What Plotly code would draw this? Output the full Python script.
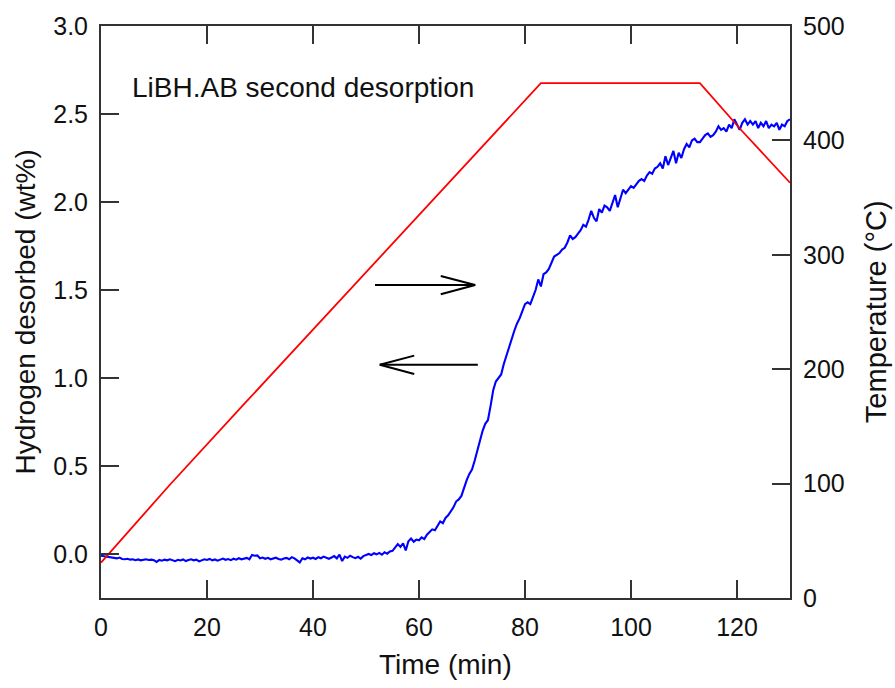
import plotly.graph_objects as go

# ---------------- data ----------------
# Hydrogen desorbed (wt%), sampled every 0.5 min from 0 to 130 min
h2_step_min = 0.5
h2_wt = [
    -0.010, -0.012, -0.015, -0.018, -0.020, -0.022, -0.025, -0.020, -0.028, -0.030,
    -0.027, -0.032, -0.030, -0.035, -0.031, -0.036, -0.033, -0.030, -0.034, -0.032,
    -0.036, -0.045, -0.034, -0.038, -0.032, -0.036, -0.030, -0.035, -0.041, -0.033,
    -0.037, -0.031, -0.040, -0.034, -0.030, -0.036, -0.032, -0.042, -0.035, -0.030,
    -0.034, -0.028, -0.036, -0.031, -0.038, -0.030, -0.026, -0.033, -0.029, -0.035,
    -0.027, -0.032, -0.024, -0.030, -0.028, -0.022, -0.030, -0.006, -0.010, -0.008,
    -0.024, -0.020, -0.027, -0.022, -0.030, -0.025, -0.021, -0.028, -0.032, -0.026,
    -0.022, -0.030, -0.018, -0.025, -0.035, -0.048, -0.024, -0.030, -0.020, -0.026,
    -0.021, -0.028, -0.018, -0.024, -0.015, -0.022, -0.027, -0.020, -0.012, -0.025,
    -0.003, -0.040, -0.015, -0.022, -0.010, -0.018, -0.024, -0.016, -0.026, -0.012,
    -0.008, 0.000, -0.006, 0.004, -0.002, 0.006, -0.004, 0.010, 0.002, 0.015,
    0.018, 0.035, 0.056, 0.040, 0.060, 0.020, 0.072, 0.088, 0.070, 0.082,
    0.078, 0.095, 0.085, 0.110, 0.125, 0.140, 0.135, 0.160, 0.185, 0.175,
    0.205, 0.220, 0.240, 0.265, 0.298, 0.310, 0.330, 0.380, 0.420, 0.455,
    0.480, 0.530, 0.590, 0.650, 0.700, 0.740, 0.760, 0.840, 0.930, 0.980,
    1.000, 1.020, 1.080, 1.130, 1.170, 1.220, 1.270, 1.310, 1.340, 1.380,
    1.420, 1.430, 1.420, 1.460, 1.500, 1.560, 1.520, 1.590, 1.600, 1.620,
    1.660, 1.690, 1.700, 1.710, 1.730, 1.740, 1.770, 1.810, 1.790, 1.800,
    1.820, 1.840, 1.870, 1.860, 1.900, 1.950, 1.910, 1.890, 1.960, 1.940,
    1.980, 1.970, 1.950, 2.000, 2.040, 1.970, 2.020, 2.070, 2.050, 2.070,
    2.090, 2.080, 2.100, 2.120, 2.130, 2.120, 2.150, 2.170, 2.160, 2.190,
    2.200, 2.220, 2.190, 2.260, 2.210, 2.250, 2.290, 2.220, 2.280, 2.250,
    2.300, 2.330, 2.310, 2.350, 2.360, 2.340, 2.340, 2.360, 2.380, 2.390,
    2.370, 2.380, 2.400, 2.430, 2.410, 2.420, 2.400, 2.440, 2.420, 2.470,
    2.440, 2.410, 2.450, 2.470, 2.440, 2.460, 2.440, 2.460, 2.420, 2.450,
    2.430, 2.460, 2.420, 2.440, 2.430, 2.450, 2.410, 2.440, 2.430, 2.460,
    2.470,
]
h2_time = [i * h2_step_min for i in range(len(h2_wt))]

# Temperature profile (°C)
temp_time = [0, 13, 27.5, 50, 83, 113, 121, 130]
temp_c = [31, 99, 172, 285, 450, 450, 408, 363]

# Arrows (data coordinates on the left axis): [tail_x, tip_x, y]
arrow_right = [51.7, 70.6, 1.528]
arrow_left = [71.1, 52.6, 1.075]

x_ticks = [0, 20, 40, 60, 80, 100, 120]
y_ticks = [0.0, 0.5, 1.0, 1.5, 2.0, 2.5, 3.0]
y2_ticks = [0, 100, 200, 300, 400, 500]

FONT = "Arial, Liberation Sans, sans-serif"
AX = "#333333"
TXT = "#111111"

fig = go.Figure()
fig.add_trace(go.Scatter(x=temp_time, y=temp_c, yaxis="y2", mode="lines",
                         line=dict(color="#ff0000", width=1.8), showlegend=False))
fig.add_trace(go.Scatter(x=h2_time, y=h2_wt, mode="lines",
                         line=dict(color="#0000ff", width=2.1), showlegend=False))

shapes = []
head_len = 6.5
head_half = 0.052
for tail, tip, yv in (arrow_right, arrow_left):
    d = 1 if tip > tail else -1
    shapes.append(dict(type="line", xref="x", yref="y", x0=tail, x1=tip, y0=yv, y1=yv,
                       line=dict(color="black", width=2)))
    for s in (1, -1):
        shapes.append(dict(type="line", xref="x", yref="y", x0=tip, y0=yv,
                           x1=tip - d * head_len, y1=yv + s * head_half,
                           line=dict(color="black", width=2)))

axis_common = dict(showline=True, linecolor=AX, linewidth=2, ticks="inside",
                   ticklen=18, tickwidth=2, tickcolor=AX, showgrid=False, zeroline=False,
                   ticklabelstandoff=6,
                   tickfont=dict(family=FONT, size=25, color=TXT))

fig.update_layout(
    width=895, height=688,
    margin=dict(l=101, r=105, t=23, b=90),
    paper_bgcolor="white", plot_bgcolor="white",
    font=dict(family=FONT, color=TXT),
    xaxis=dict(range=[0, 130], tickvals=x_ticks, mirror="ticks", **axis_common),
    yaxis=dict(range=[-0.25, 3.0], tickvals=y_ticks, tickformat=".1f", **axis_common),
    yaxis2=dict(range=[0, 500], tickvals=y2_ticks, overlaying="y", side="right", **axis_common),
    shapes=shapes,
    annotations=[
        dict(text="LiBH.AB second desorption", x=5.5, y=2.65, xref="x", yref="y",
             xanchor="left", yanchor="middle", showarrow=False,
             font=dict(family=FONT, size=28, color=TXT)),
        dict(text="Time (min)", x=0.5, y=-0.1165, xref="paper", yref="paper",
             xanchor="center", yanchor="middle", showarrow=False,
             font=dict(family=FONT, size=28, color=TXT)),
        dict(text="Hydrogen desorbed (wt%)", x=-0.111, y=0.5, xref="paper", yref="paper",
             xanchor="center", yanchor="middle", textangle=-90, showarrow=False,
             font=dict(family=FONT, size=28, color=TXT)),
        dict(text="Temperature (°C)", x=1.125, y=0.5, xref="paper", yref="paper",
             xanchor="center", yanchor="middle", textangle=-90, showarrow=False,
             font=dict(family=FONT, size=29, color=TXT)),
    ],
)

fig.write_html("out.html")
